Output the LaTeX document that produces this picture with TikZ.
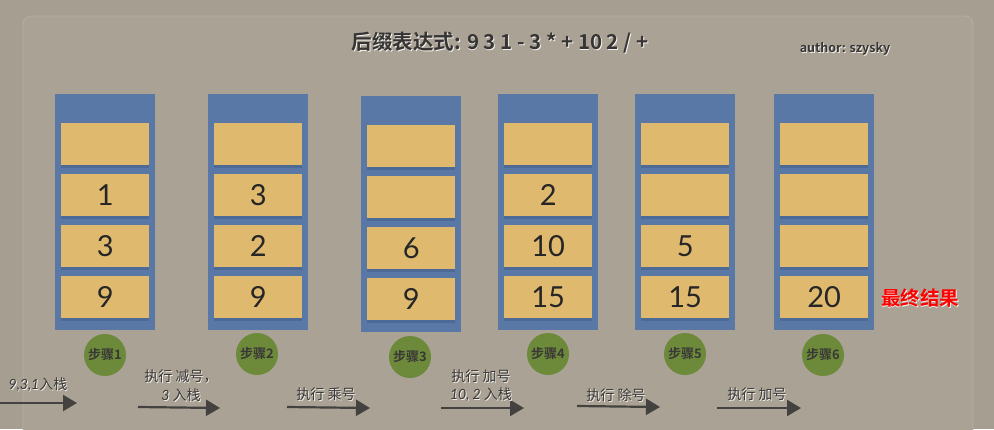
\documentclass[tikz,border=0pt]{standalone}
\usepackage{fontspec}
\setmainfont{Lato}
\newfontfamily\cjk{Noto Sans CJK SC}[BoldFont={Noto Sans CJK SC Bold}]
\newfontfamily\digitfont{Lato}
\newcommand\itnum[1]{{\digitfont\itshape #1}}
\usetikzlibrary{arrows.meta,shadows,calc}
\definecolor{bgc}{HTML}{A69E90}
\definecolor{panelline}{HTML}{B6AEA0}
\definecolor{stackblue}{HTML}{5A78A6}
\definecolor{cellfill}{HTML}{DFB96E}
\definecolor{cellshade}{HTML}{4C6894}
\definecolor{stepgreen}{HTML}{6C8A3A}
\definecolor{inkc}{HTML}{3A3836}
\definecolor{arrowc}{HTML}{444240}
\tikzset{
  stackbox/.style={draw=none, fill=stackblue, minimum width=100pt, minimum height=236pt, anchor=north west, inner sep=0pt},
  cellbox/.style={fill=cellfill, minimum width=88pt, minimum height=42pt, anchor=north west, inner sep=0pt,
     font=\digitfont\fontsize{29}{30}\selectfont, text=black!85,
     drop shadow={shadow xshift=0pt, shadow yshift=-2.5pt, fill=cellshade, opacity=0.9}},
  stepcircle/.style={circle, fill=stepgreen, minimum size=42pt, inner sep=0pt,
     font=\cjk\bfseries\fontsize{13}{13}\selectfont, text=inkc},
  steparrow/.style={draw=arrowc, line width=2.2pt, -{Triangle[length=14pt,width=16pt]}},
  arrowtext/.style={font=\cjk\fontsize{14}{17}\selectfont, text=inkc, inner sep=0pt, align=center},
  shadowtext/.style={text=white!85!bgc},
}
\newcommand\mystack[7]{%
  \node[stackbox] (stk#1) at (#2,#3) {};
  \node[cellbox] (c#1a) at (#2+6,#3+29) {#4};
  \node[cellbox] (c#1b) at (#2+6,#3+80) {#5};
  \node[cellbox] (c#1c) at (#2+6,#3+131) {#6};
  \node[cellbox] (c#1d) at (#2+6,#3+182) {#7};
}
\newcommand\embossed[4]{% name, pos, style/font, text
  \node[#3, shadowtext] at ($(#2)+(0.9,0.9)$) {#4};
  \node[#3] (#1) at (#2) {#4};
}
\begin{document}
\begin{tikzpicture}[x=1pt,y=-1pt]
\useasboundingbox (0,0) rectangle (994,429);
\fill[bgc] (0,0) rectangle (994,429);
\draw[panelline, line width=0.8pt, rounded corners=8pt, fill=bgc!96!white] (23,16) rectangle (973,445);

% title
\embossed{title}{500,43}{font=\cjk\bfseries\fontsize{20.5}{22}\selectfont, text=inkc!95!black}{后缀表达式: 9 3 1 - 3 * + 10 2 / +}
\embossed{author}{845,49}{font=\cjk\bfseries\fontsize{12.5}{13}\selectfont, text=inkc!95!black}{author: szysky}

% stacks
\mystack{1}{55}{94}{}{1}{3}{9}
\mystack{2}{208}{94}{}{3}{2}{9}
\mystack{3}{361}{96}{}{}{6}{9}
\mystack{4}{498}{94}{}{2}{10}{15}
\mystack{5}{635}{94}{}{}{5}{15}
\mystack{6}{774}{94}{}{}{}{20}

\embossed{final}{920,298}{font=\cjk\bfseries\fontsize{19.5}{20}\selectfont, text=red}{最终结果}

% step circles
\node[stepcircle] (st1) at (105,355) {步骤1};
\node[stepcircle] (st2) at (257,354) {步骤2};
\node[stepcircle] (st3) at (410,357) {步骤3};
\node[stepcircle] (st4) at (548,354) {步骤4};
\node[stepcircle] (st5) at (685,354) {步骤5};
\node[stepcircle] (st6) at (823,355) {步骤6};

% arrows
\coordinate (a1s) at (0,403);   \coordinate (a1e) at (77,403);
\coordinate (a2s) at (138,407); \coordinate (a2e) at (220,408);
\coordinate (a3s) at (287,407); \coordinate (a3e) at (370,408);
\coordinate (a4s) at (441,408); \coordinate (a4e) at (524,408);
\coordinate (a5s) at (577,406); \coordinate (a5e) at (660,407);
\coordinate (a6s) at (717,408); \coordinate (a6e) at (801,408);
\foreach \i in {1,...,6} \draw[steparrow] (a\i s) -- (a\i e);

\embossed{t1}{38,385}{arrowtext}{\itnum{9,3,1}入栈}
\embossed{t2a}{181,376}{arrowtext}{执行 减号，}
\embossed{t2b}{181,395}{arrowtext}{\itnum{3} 入栈}
\embossed{t3}{326,394}{arrowtext}{执行 乘号}
\embossed{t4a}{481,376}{arrowtext}{执行 加号}
\embossed{t4b}{481,395}{arrowtext}{\itnum{10, 2} 入栈}
\embossed{t5}{616,395}{arrowtext}{执行 除号}
\embossed{t6}{757,394}{arrowtext}{执行 加号}
\end{tikzpicture}
\end{document}
